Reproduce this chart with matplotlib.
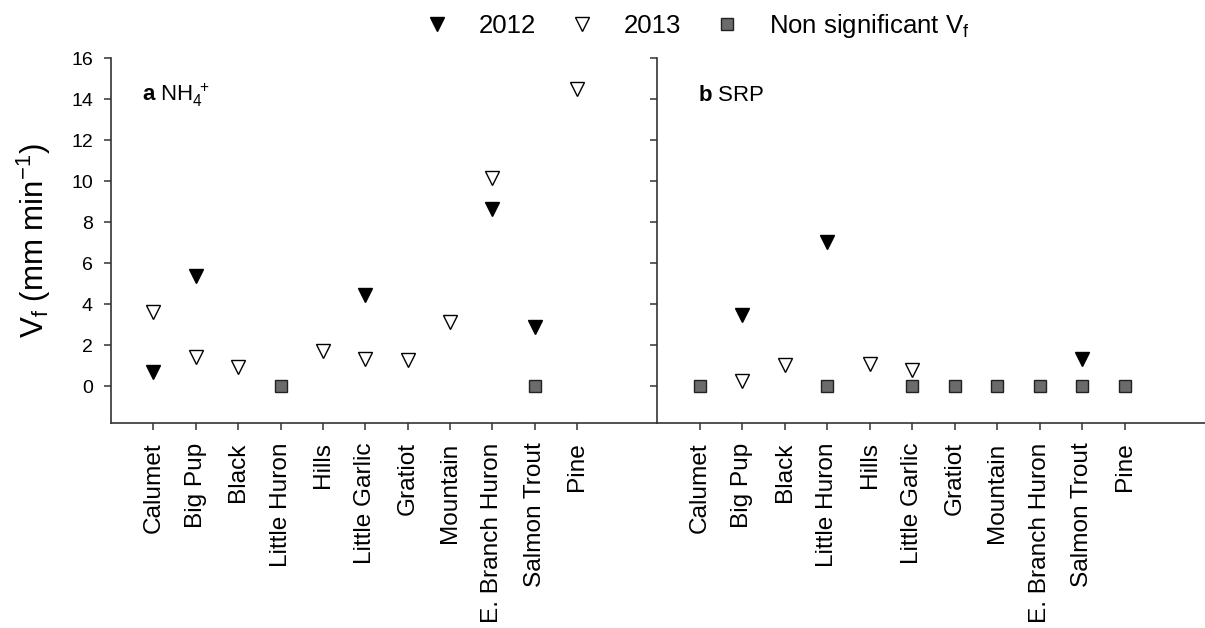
import numpy as np
import matplotlib
matplotlib.use("Agg")
import matplotlib.pyplot as plt
from matplotlib.lines import Line2D

plt.rcParams.update({
    "font.family": ["Liberation Sans", "DejaVu Sans"],
    "mathtext.fontset": "custom",
    "mathtext.rm": "Liberation Sans",
    "mathtext.it": "Liberation Sans:italic",
    "mathtext.bf": "Liberation Sans:bold",
    "mathtext.default": "regular",
})

nan = np.nan

# ─── data ────────────────────────────────────────────────────────────────────
sites = ["Calumet", "Big Pup", "Black", "Little Huron", "Hills", "Little Garlic",
         "Gratiot", "Mountain", "E. Branch Huron", "Salmon Trout", "Pine"]

# panel a: NH4+
nh4_2012 = [0.7, 5.35, nan, nan, nan, 4.42, nan, nan, 8.65, 2.88, nan]
nh4_2013 = [3.62, 1.43, 0.91, nan, 1.72, 1.32, 1.27, 3.12, 10.15, nan, 14.5]
nh4_nonsig = [nan, nan, nan, 0, nan, nan, nan, nan, nan, 0, nan]

# panel b: SRP
srp_2012 = [nan, 3.45, nan, 7.04, nan, nan, nan, nan, nan, 1.33, nan]
srp_2013 = [nan, 0.23, 1.02, nan, 1.06, 0.80, nan, nan, nan, nan, nan]
srp_nonsig = [0, nan, nan, 0, nan, 0, 0, 0, 0, 0, 0]

yticks = [0, 2, 4, 6, 8, 10, 12, 14, 16]

# ─── style ───────────────────────────────────────────────────────────────────
SPINE = "#333333"
SQ_FACE = "#6b6b6b"
MS_TRI = 9.6
MS_SQ = 9.2


def draw_panel(ax, v12, v13, vns, label, label_x, show_yticklabels):
    x = np.arange(1, len(sites) + 1)
    ax.plot(x, vns, linestyle="None", marker="s", ms=MS_SQ,
            mfc=SQ_FACE, mec="#222222", mew=1.0, zorder=3)
    ax.plot(x, v12, linestyle="None", marker="v", ms=MS_TRI,
            mfc="black", mec="black", mew=1.0, zorder=3)
    ax.plot(x, v13, linestyle="None", marker="v", ms=MS_TRI,
            mfc="white", mec="black", mew=1.0, zorder=3)

    ax.set_xlim(0, 12.88)
    ax.set_ylim(-1.8, 16)
    ax.set_xticks(x)
    ax.set_xticklabels(sites, rotation=90, fontsize=17.6)
    ax.set_yticks(yticks)
    if show_yticklabels:
        ax.set_yticklabels([str(t) for t in yticks], fontsize=14)
    else:
        ax.set_yticklabels([])

    for s in ["top", "right"]:
        ax.spines[s].set_visible(False)
    for s in ["left", "bottom"]:
        ax.spines[s].set_color(SPINE)
        ax.spines[s].set_linewidth(1.2)
    ax.tick_params(axis="both", direction="out", length=5, width=1.1,
                   color=SPINE, pad=8)
    ax.tick_params(axis="x", pad=9)
    ax.text(label_x, 0.898, label, transform=ax.transAxes, fontsize=16,
            ha="left", va="center")


fig = plt.figure(figsize=(12.05, 6.28), dpi=100)
ax_a = fig.add_axes([0.0921, 0.3264, 0.4531, 0.5812])
ax_b = fig.add_axes([0.5452, 0.3264, 0.4548, 0.5812])

draw_panel(ax_a, nh4_2012, nh4_2013, nh4_nonsig,
           r"$\mathbf{a}$ NH$_4^{\ +}$", 0.057, True)
draw_panel(ax_b, srp_2012, srp_2013, srp_nonsig,
           r"$\mathbf{b}$ SRP", 0.075, False)

ax_a.set_ylabel(r"V$_f$ (mm min$^{-1}$)", fontsize=22.5)
ax_a.yaxis.set_label_coords(-0.107, 0.5)

handles = [
    Line2D([], [], linestyle="None", marker="v", ms=MS_TRI, mfc="black", mec="black"),
    Line2D([], [], linestyle="None", marker="v", ms=MS_TRI, mfc="white", mec="black"),
    Line2D([], [], linestyle="None", marker="s", ms=MS_SQ, mfc=SQ_FACE, mec="#222222"),
]
fig.legend(handles, ["2012", "2013", "Non significant V$_f$"],
           loc="center", bbox_to_anchor=(0.578, 0.958), ncol=3, frameon=False,
           fontsize=18.5, handlelength=1.0, handletextpad=1.13,
           columnspacing=1.29, borderpad=0.1)

fig.savefig("out.png", dpi=100)
